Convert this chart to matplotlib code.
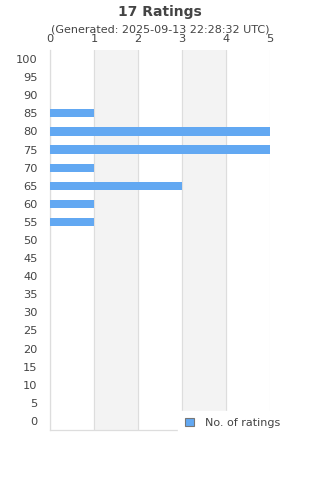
import matplotlib.pyplot as plt
import matplotlib.patches as patches

# Data
categories = [100, 95, 90, 85, 80, 75, 70, 65, 60, 55, 50, 45, 40, 35, 30, 25, 20, 15, 10, 5, 0]
counts = [0, 0, 0, 1, 5, 5, 1, 3, 1, 1, 0, 0, 0, 0, 0, 0, 0, 0, 0, 0, 0]
x_ticks = [0, 1, 2, 3, 4, 5]

bar_color = '#62a8f2'
text_color = '#444444'
grid_color = '#dddddd'

fig = plt.figure(figsize=(3.2, 4.8), dpi=100)
ax = fig.add_axes([50 / 320, 1 - 430 / 480, 220 / 320, 380 / 480])

ypos = list(range(len(categories)))
ax.barh(ypos, counts, height=0.45, color=bar_color, zorder=3, label='No. of ratings')

# alternating bands
for i in range(1, 5, 2):
    ax.axvspan(i, i + 1, color='#f3f3f3', zorder=0)

ax.set_xlim(0, 5)
ax.set_ylim(len(categories) - 0.5, -0.5)
ax.set_yticks(ypos)
ax.set_yticklabels([str(c) for c in categories])
ax.set_xticks(x_ticks)
ax.xaxis.tick_top()
ax.tick_params(axis='both', length=0, labelsize=8.2, colors=text_color)
ax.tick_params(axis='y', pad=9)
ax.tick_params(axis='x', pad=4.5)
ax.grid(axis='x', color=grid_color, linewidth=0.8, zorder=1)
ax.set_axisbelow(True)

for s in ['top', 'right']:
    ax.spines[s].set_visible(False)
for s in ['left', 'bottom']:
    ax.spines[s].set_color(grid_color)
    ax.spines[s].set_linewidth(0.9)

fig.text(0.5, 1 - 12 / 480, '17 Ratings', ha='center', va='center',
         fontsize=10, fontweight='bold', color=text_color)
fig.text(0.5, 1 - 30 / 480, '(Generated: 2025-09-13 22:28:32 UTC)', ha='center',
         va='center', fontsize=8, color=text_color)

handle = patches.Rectangle((0, 0), 1, 1, facecolor=bar_color, edgecolor='#777777', linewidth=0.8)
leg = fig.legend([handle], ['No. of ratings'], loc='upper left',
                 bbox_to_anchor=(178 / 320, 1 - 411 / 480), frameon=True,
                 fontsize=8, handlelength=0.8, handleheight=0.8, handletextpad=1.0,
                 borderpad=0.6, borderaxespad=0, fancybox=False)
leg.get_frame().set_facecolor('white')
leg.get_frame().set_edgecolor('white')
leg.get_frame().set_alpha(1)
for t in leg.get_texts():
    t.set_color(text_color)

fig.savefig('out.png', dpi=100)
